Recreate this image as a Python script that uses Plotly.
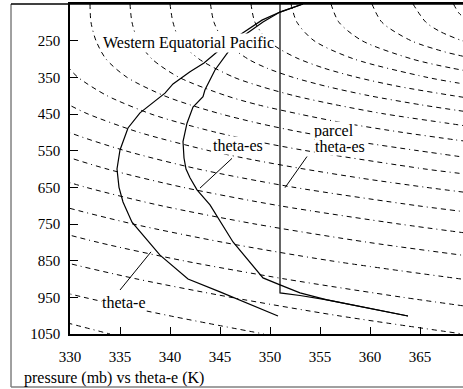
import plotly.graph_objects as go

FONT = "Liberation Serif, Times New Roman, Times, DejaVu Serif, serif"

# Environmental profiles, Western Equatorial Pacific (K vs mb)
theta_e_k = [353.3, 351.0, 349.2, 347.0, 344.7, 343.4, 342.0, 340.3, 339.5, 339.0,
             337.0, 335.8, 335.0, 334.7, 334.9, 335.3, 336.2, 339.0, 341.8, 345.0, 350.8]
theta_e_p = [150, 172, 194, 234, 281, 311, 335, 368, 393, 404,
             447, 488, 548, 600, 650, 690, 745, 835, 900, 935, 1001]

theta_es_k = [353.3, 351.0, 349.3, 347.5, 345.8, 344.5, 343.5, 343.3, 342.3, 341.7,
              341.3, 341.4, 341.6, 342.0, 342.7, 344.0, 346.3, 349.3, 351.0, 353.0,
              355.7, 363.8]
theta_es_p = [150, 172, 199, 234, 281, 330, 384, 403, 431, 475,
              525, 570, 600, 624, 657, 698, 799, 897, 916, 938,
              957, 1001]

# Lifted surface parcel
parcel_k = [351.0, 351.0, 353.0, 355.7, 363.8]
parcel_p = [150, 938, 945, 957, 1001]

# Dry adiabats drawn as (theta-es, pressure) pairs
adiabat_368 = [(368.35, 150), (368.9, 175), (370.0, 200)]
adiabat_364 = [(364.3, 150), (365.6, 200), (367.0, 225), (369.2, 250), (370.5, 260)]
adiabat_360 = [(360.2, 150), (361.2, 200), (364.1, 250), (367.4, 280), (368.9, 290), (370.5, 300)]
adiabat_356 = [(356.1, 150), (356.9, 200), (359.2, 250), (364.2, 300), (368.2, 325), (373.4, 350)]
adiabat_352 = [(352.1, 150), (352.7, 200), (354.4, 250), (358.4, 300), (365.7, 350), (368.7, 365), (371.1, 375)]
adiabat_348 = [(348.1, 150), (348.5, 200), (349.8, 250), (351.1, 275), (352.9, 300), (355.4, 325),
               (358.7, 350), (362.9, 375), (368.3, 400), (370.7, 410)]
adiabat_344 = [(344.05, 150), (344.4, 200), (345.4, 250), (347.8, 300), (349.7, 325), (352.3, 350),
               (355.7, 375), (359.9, 400), (365.1, 425), (368.7, 440), (371.3, 450)]
adiabat_340 = [(340.0, 150), (340.3, 200), (341.0, 250), (342.9, 300), (346.4, 350), (349.1, 375),
               (352.4, 400), (356.6, 425), (361.5, 450), (367.7, 475), (370.2, 485)]
adiabat_336 = [(336.0, 150), (336.2, 200), (336.8, 250), (338.2, 300), (340.9, 350), (345.6, 400),
               (348.8, 425), (352.9, 450), (357.5, 475), (363.2, 500), (368.4, 520), (369.8, 525)]
adiabat_332 = [(332.0, 150), (332.1, 200), (332.6, 250), (333.6, 300), (335.7, 350), (339.4, 400),
               (342.0, 425), (345.1, 450), (348.8, 475), (353.2, 500), (358.6, 525), (364.8, 550), (370.0, 570)]
adiabat_328 = [(329.2, 300), (329.9, 325), (330.8, 350), (333.7, 400), (338.1, 450), (341.1, 475),
               (344.6, 500), (348.7, 525), (353.6, 550), (365.5, 600), (369.0, 612), (372.8, 625)]
adiabat_324 = [(326.1, 350), (328.3, 400), (329.9, 425), (331.8, 450), (336.9, 500), (343.9, 550),
               (348.3, 575), (353.4, 600), (359.1, 625), (365.6, 650), (369.9, 665)]
adiabat_320 = [(323.2, 400), (325.9, 450), (329.9, 500), (335.5, 550), (342.8, 600), (352.4, 650),
               (364.7, 700), (369.0, 715), (371.8, 725)]
adiabat_316 = [(323.6, 500), (327.9, 550), (333.7, 600), (341.3, 650), (350.9, 700), (362.9, 750), (369.7, 775)]
adiabat_312 = [(325.6, 600), (331.6, 650), (339.1, 700), (348.5, 750), (359.8, 800), (369.2, 835), (373.5, 850)]
adiabat_308 = [(323.0, 650), (329.0, 700), (336.3, 750), (345.3, 800), (356.0, 850), (369.1, 900)]
adiabat_304 = [(320.1, 700), (325.9, 750), (332.8, 800), (341.3, 850), (351.5, 900), (363.3, 950), (369.8, 975)]
adiabat_300 = [(322.3, 800), (328.8, 850), (336.7, 900), (346.1, 950), (356.8, 1000), (369.3, 1050)]
adiabat_296 = [(318.2, 850), (324.2, 900), (331.4, 950), (339.9, 1000), (349.4, 1050)]
adiabat_292 = [(320.5, 950), (327.0, 1000), (334.0, 1050)]

adiabats = [adiabat_368, adiabat_364, adiabat_360, adiabat_356, adiabat_352, adiabat_348,
            adiabat_344, adiabat_340, adiabat_336, adiabat_332, adiabat_328, adiabat_324,
            adiabat_320, adiabat_316, adiabat_312, adiabat_308, adiabat_304, adiabat_300,
            adiabat_296, adiabat_292]

# Axis ticks
x_ticks = [330, 335, 340, 345, 350, 355, 360, 365]
y_ticks = [250, 350, 450, 550, 650, 750, 850, 950, 1050]

# Leader lines from labels to curves
leader_theta_es = [(346.2, 571), (343.0, 652)]
leader_parcel = [(353.7, 566), (351.5, 651)]
leader_theta_e = [(335.0, 930), (338.1, 826)]

fig = go.Figure()

adiabat_dash = "5px,4px,5px,4px,5px,4px,1px,4px"
for curve in adiabats:
    fig.add_trace(go.Scatter(
        x=[c[0] for c in curve], y=[c[1] for c in curve], mode="lines",
        line=dict(color="black", width=1, dash=adiabat_dash, shape="spline", smoothing=0.8),
        hoverinfo="skip"))

solid = dict(color="black", width=1.2)
fig.add_trace(go.Scatter(x=theta_e_k, y=theta_e_p, mode="lines", line=solid))
fig.add_trace(go.Scatter(x=theta_es_k, y=theta_es_p, mode="lines", line=solid))
fig.add_trace(go.Scatter(x=parcel_k, y=parcel_p, mode="lines", line=solid))
for ld in (leader_theta_es, leader_parcel, leader_theta_e):
    fig.add_trace(go.Scatter(x=[q[0] for q in ld], y=[q[1] for q in ld], mode="lines",
                             line=dict(color="black", width=1)))

lab_font = dict(family=FONT, size=16, color="black")
labels = [
    ("Western Equatorial Pacific", 341.8, 255),
    ("theta-es", 346.75, 537),
    ("theta-e", 335.4, 963),
]
for txt, x, y in labels:
    fig.add_annotation(x=x, y=y, text=txt, showarrow=False, font=lab_font,
                       bgcolor="white", borderpad=0)
fig.add_annotation(x=354.3, y=495, text="parcel", xanchor="left", showarrow=False,
                   font=lab_font, bgcolor="white", borderpad=0)
fig.add_annotation(x=354.4, y=539, text="theta-es", xanchor="left", showarrow=False,
                   font=lab_font, bgcolor="white", borderpad=0)

fig.add_annotation(xref="paper", yref="paper", x=-0.1221, y=-0.1333,
                   text="pressure (mb) vs theta-e (K)", xanchor="left", yanchor="middle",
                   showarrow=False, font=lab_font)

# Outer frame
fl, fb = -0.1501, -0.1606
fig.add_shape(type="line", xref="paper", yref="paper", x0=fl, x1=fl, y0=fb, y1=1.0,
              line=dict(color="#808080", width=1.5))
fig.add_shape(type="line", xref="paper", yref="paper", x0=fl, x1=1.1, y0=fb, y1=fb,
              line=dict(color="#808080", width=1.5))
fig.add_shape(type="line", xref="paper", yref="paper", x0=fl, x1=1.1, y0=1.0, y1=1.0,
              line=dict(color="black", width=1.5))

tick_font = dict(family=FONT, size=15, color="black")
fig.update_xaxes(range=[330, 369.3], tickvals=x_ticks, ticks="inside", ticklen=7,
                 tickwidth=1, tickcolor="black", showline=True, linecolor="black",
                 linewidth=1.5, mirror=True, showgrid=False, zeroline=False,
                 tickfont=tick_font, ticklabelstandoff=8)
fig.update_yaxes(range=[1050, 150], tickvals=y_ticks, ticks="inside", ticklen=8,
                 tickwidth=1, tickcolor="black", showline=True, linecolor="black",
                 linewidth=1.5, mirror=False, showgrid=False, zeroline=False,
                 tickfont=tick_font, ticklabelstandoff=5)
fig.update_layout(width=463, height=389, margin=dict(l=70, r=0, t=4, b=55),
                  paper_bgcolor="white", plot_bgcolor="white", showlegend=False,
                  font=dict(family=FONT))

fig.write_html("out.html")
